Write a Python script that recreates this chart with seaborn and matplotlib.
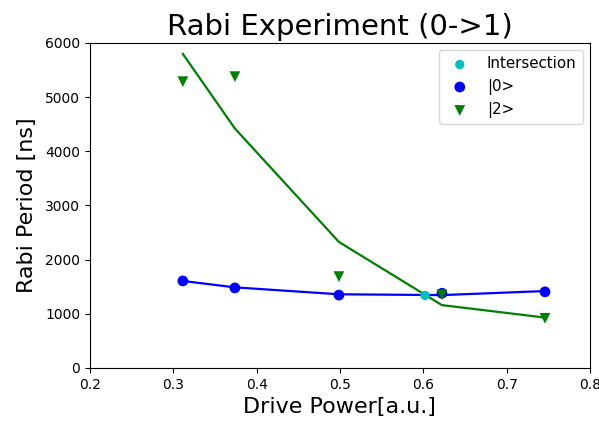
import matplotlib
matplotlib.use("Agg")
import matplotlib.pyplot as plt
import seaborn as sns
import pandas as pd

drive_power = [0.3116, 0.374, 0.4988, 0.6224, 0.746]
period_0 = [1606, 1477, 1345, 1379, 1405]
period_2 = [5285, 5377, 1686, 1350, 917]
fit_0 = [1606, 1488, 1360, 1345, 1420]
fit_2 = [5797, 4420, 2326, 1160, 930]
intersect_x = [0.602]
intersect_y = [1340]

df = pd.DataFrame({"x": drive_power, "p0": period_0, "p2": period_2,
                   "f0": fit_0, "f2": fit_2})

fig = plt.figure(figsize=(5.99, 4.21), dpi=100)
ax = fig.add_axes([0.150, 0.126, 0.835, 0.772])

sns.lineplot(data=df, x="x", y="f0", color="blue", ax=ax, linewidth=1.6)
sns.lineplot(data=df, x="x", y="f2", color="green", ax=ax, linewidth=1.6)
sns.scatterplot(x=intersect_x, y=intersect_y, color="c", marker="o", s=45,
                edgecolor="none", ax=ax, label="Intersection", zorder=3)
sns.scatterplot(data=df, x="x", y="p0", color="blue", marker="o", s=60,
                edgecolor="none", ax=ax, label="|0>", zorder=3)
sns.scatterplot(data=df, x="x", y="p2", color="green", marker="v", s=60,
                edgecolor="none", ax=ax, label="|2>", zorder=3)

ax.set_xlim(0.2, 0.8)
ax.set_ylim(0, 6000)
ax.set_xticks([0.2, 0.3, 0.4, 0.5, 0.6, 0.7, 0.8])
ax.set_yticks([0, 1000, 2000, 3000, 4000, 5000, 6000])
ax.tick_params(labelsize=10)
ax.set_title("Rabi Experiment (0->1)", fontsize=21)
ax.set_xlabel("Drive Power[a.u.]", fontsize=16)
ax.set_ylabel("Rabi Period [ns]", fontsize=16, labelpad=6)
ax.legend(loc="upper right", fontsize=10.8)

fig.savefig("out.png", dpi=100)
